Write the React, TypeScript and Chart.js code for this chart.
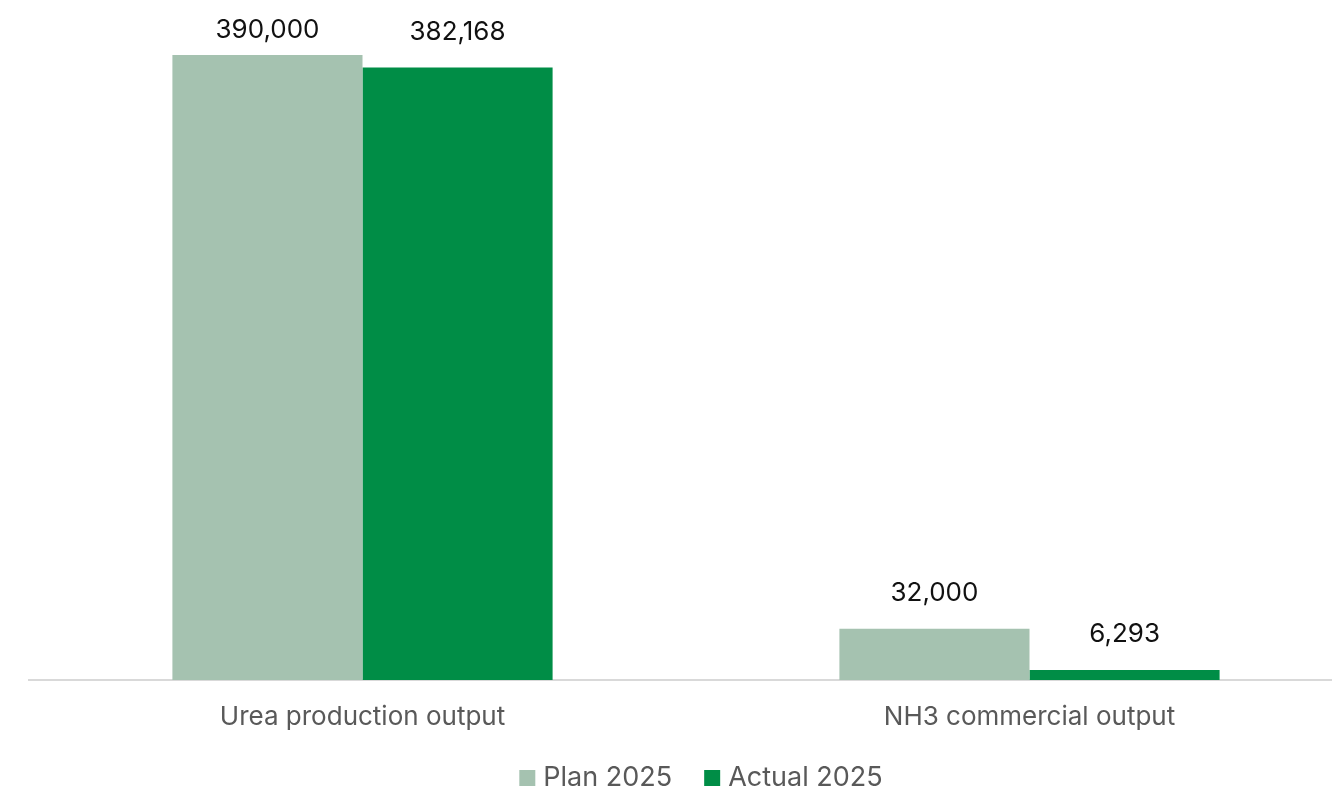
import React, { useEffect, useRef } from "react";
import { Chart, registerables } from "chart.js";

Chart.register(...registerables);

const categories = ["Urea production output", "NH3 commercial output"];
const seriesNames = ["Plan 2025", "Actual 2025"];
const planValues = [390000, 32000];
const actualValues = [382168, 6293];
const seriesColors = ["#a5c2b0", "#008d46"];

const FONT = "Inter, 'Noto Sans', sans-serif";

const dataLabelPlugin = {
  id: "dataLabels",
  afterDatasetsDraw(chart: any) {
    const ctx = chart.ctx;
    ctx.save();
    ctx.font = `400 26px ${FONT}`;
    ctx.fillStyle = "#111111";
    ctx.textAlign = "center";
    ctx.textBaseline = "alphabetic";
    chart.data.datasets.forEach((ds: any, di: number) => {
      const meta = chart.getDatasetMeta(di);
      meta.data.forEach((bar: any, i: number) => {
        const v = ds.data[i] as number;
        const y = Math.max(bar.y - 28, 38);
        ctx.fillText(v.toLocaleString("en-US"), bar.x, y);
      });
    });
    ctx.restore();
  },
};

const legendPlugin = {
  id: "customLegend",
  afterDraw(chart: any) {
    const ctx = chart.ctx;
    ctx.save();
    ctx.font = `400 27px ${FONT}`;
    ctx.textBaseline = "alphabetic";
    ctx.textAlign = "left";
    const box = 16;
    const gap = 8;
    const itemGap = 32;
    const items = chart.data.datasets.map((ds: any) => ({
      label: ds.label,
      color: ds.backgroundColor,
      w: box + gap + ctx.measureText(ds.label).width,
    }));
    const total = items.reduce((s: number, it: any) => s + it.w, 0) + itemGap * (items.length - 1);
    const cx = (chart.chartArea.left + chart.chartArea.right) / 2 + 5;
    let x = cx - total / 2;
    const baseline = 786;
    items.forEach((it: any) => {
      ctx.fillStyle = it.color;
      ctx.fillRect(x, baseline - 16, box, box);
      ctx.fillStyle = "#595959";
      ctx.fillText(it.label, x + box + gap, baseline);
      x += it.w + itemGap;
    });
    ctx.restore();
  },
};

export default function App() {
  const ref = useRef<HTMLCanvasElement | null>(null);
  useEffect(() => {
    if (!ref.current) return;
    const chart = new Chart(ref.current, {
      type: "bar",
      data: {
        labels: categories,
        datasets: [
          { label: seriesNames[0], data: planValues, backgroundColor: seriesColors[0] },
          { label: seriesNames[1], data: actualValues, backgroundColor: seriesColors[1] },
        ],
      },
      options: {
        animation: false,
        responsive: false,
        maintainAspectRatio: false,
        layout: { padding: { left: 29, right: 0, top: 7, bottom: 0 } },
        datasets: {
          bar: { barPercentage: 1, categoryPercentage: 0.57, borderWidth: 0 },
        } as any,
        plugins: {
          legend: { display: false },
          tooltip: { enabled: false },
        },
        scales: {
          x: {
            grid: { display: false, drawTicks: false },
            border: { display: true, color: "#d9d9d9", width: 2 },
            ticks: {
              color: "#595959",
              font: { family: FONT, size: 26 },
              padding: 22,
            },
            afterFit(scale: any) {
              scale.height = 109;
            },
          },
          y: {
            display: false,
            min: 0,
            max: 420000,
            grid: { display: false },
          },
        },
      },
      plugins: [dataLabelPlugin, legendPlugin],
    });
    return () => chart.destroy();
  }, []);
  return (
    <div
      style={{
        position: "fixed",
        left: 0,
        top: 0,
        width: 1332,
        height: 789,
        overflow: "hidden",
        background: "#ffffff",
      }}
    >
      <canvas ref={ref} width={1363} height={789} style={{ display: "block" }} />
    </div>
  );
}
